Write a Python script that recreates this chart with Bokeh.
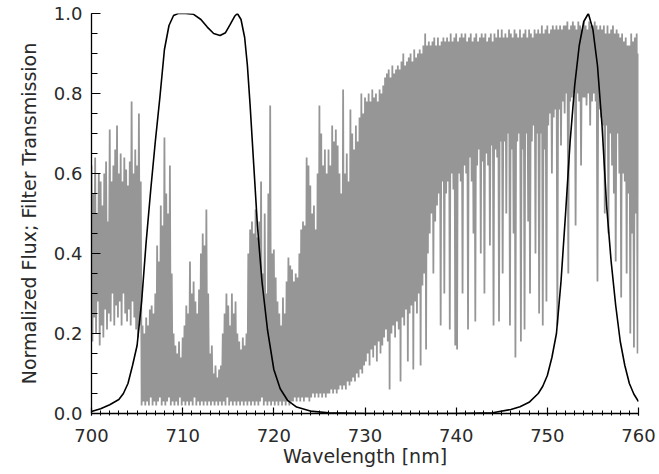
from bokeh.plotting import figure
from bokeh.models import FixedTicker, Range1d, PrintfTickFormatter
from bokeh.embed import file_html
from bokeh.resources import INLINE
import numpy as np

# ---- data ----
# stellar spectrum, sampled every 0.1 nm from 700 nm (one row per nm)
spec_start = 700.0
spec_step = 0.1
flux = [
    .62, .18, .55, .24, .64, .20, .50, .28, .60, .17,   # 700
    .58, .22, .52, .19, .60, .26, .63, .21, .48, .25,   # 701
    .71, .23, .58, .30, .62, .22, .66, .27, .72, .24,   # 702
    .60, .28, .65, .22, .58, .30, .64, .25, .61, .23,   # 703
    .57, .26, .63, .22, .78, .28, .60, .24, .66, .21,   # 704
    .62, .19, .75, .22, .58, .02, .22, .03, .20, .02,   # 705
    .24, .03, .22, .02, .26, .04, .27, .02, .25, .03,   # 706
    .30, .02, .42, .03, .38, .04, .52, .02, .47, .03,   # 707
    .69, .02, .55, .03, .50, .04, .62, .02, .35, .03,   # 708
    .20, .02, .17, .03, .15, .02, .18, .04, .14, .02,   # 709
    .19, .03, .22, .02, .27, .03, .25, .02, .38, .03,   # 710
    .30, .02, .33, .04, .28, .02, .25, .03, .31, .02,   # 711
    .40, .03, .45, .02, .42, .03, .51, .02, .30, .03,   # 712
    .15, .02, .17, .03, .10, .02, .12, .03, .09, .02,   # 713
    .11, .03, .12, .02, .20, .03, .25, .02, .30, .04,   # 714
    .27, .02, .22, .03, .30, .02, .25, .03, .28, .02,   # 715
    .20, .03, .18, .02, .16, .03, .19, .02, .17, .03,   # 716
    .20, .02, .40, .03, .46, .02, .48, .03, .45, .02,   # 717
    .51, .03, .44, .02, .48, .03, .58, .04, .35, .02,   # 718
    .50, .03, .30, .02, .55, .03, .77, .02, .40, .03,   # 719
    .41, .02, .34, .03, .28, .02, .25, .03, .22, .02,   # 720
    .29, .03, .25, .02, .33, .03, .39, .02, .37, .03,   # 721
    .36, .03, .33, .04, .35, .03, .34, .04, .40, .03,   # 722
    .46, .04, .48, .03, .47, .04, .64, .04, .62, .03,   # 723
    .57, .04, .50, .05, .52, .04, .46, .05, .60, .04,   # 724
    .77, .05, .70, .04, .62, .05, .66, .04, .60, .05,   # 725
    .66, .05, .62, .06, .72, .05, .68, .06, .71, .05,   # 726
    .67, .06, .60, .07, .55, .06, .81, .07, .60, .06,   # 727
    .65, .08, .58, .07, .76, .08, .70, .09, .66, .08,   # 728
    .72, .10, .68, .09, .74, .11, .80, .10, .75, .12,   # 729
    .79, .13, .78, .15, .80, .12, .78, .16, .81, .14,   # 730
    .79, .17, .80, .13, .78, .18, .81, .15, .80, .17,   # 731
    .82, .19, .84, .21, .85, .18, .86, .06, .84, .20,   # 732
    .87, .22, .85, .19, .86, .23, .87, .21, .86, .08,   # 733
    .88, .24, .90, .22, .87, .26, .88, .13, .89, .25,   # 734
    .90, .27, .88, .11, .91, .28, .89, .25, .90, .30,   # 735
    .91, .12, .90, .32, .92, .35, .95, .16, .92, .40,   # 736
    .93, .45, .92, .50, .93, .35, .94, .48, .92, .52,   # 737
    .94, .55, .92, .22, .93, .58, .94, .30, .93, .55,   # 738
    .94, .58, .93, .21, .95, .60, .93, .56, .94, .17,   # 739
    .95, .16, .93, .60, .94, .58, .95, .30, .94, .62,   # 740
    .95, .60, .93, .21, .94, .64, .95, .58, .93, .45,   # 741
    .94, .23, .95, .62, .93, .66, .94, .40, .95, .63,   # 742
    .94, .30, .95, .65, .93, .62, .94, .42, .95, .67,   # 743
    .93, .22, .95, .66, .94, .64, .96, .23, .94, .68,   # 744
    .96, .35, .94, .68, .95, .50, .94, .70, .96, .22,   # 745
    .95, .66, .94, .45, .96, .14, .95, .68, .94, .70,   # 746
    .96, .18, .94, .66, .95, .21, .96, .70, .94, .48,   # 747
    .96, .30, .95, .68, .94, .72, .96, .40, .95, .70,   # 748
    .96, .25, .95, .70, .97, .22, .95, .66, .96, .28,   # 749
    .97, .72, .95, .75, .96, .60, .97, .74, .96, .76,   # 750
    .97, .22, .96, .76, .97, .67, .96, .78, .97, .75,   # 751
    .97, .80, .98, .35, .96, .78, .97, .79, .98, .80,   # 752
    .97, .47, .96, .80, .98, .78, .97, .62, .96, .79,   # 753
    .98, .79, .97, .77, .96, .80, .98, .72, .97, .78,   # 754
    .97, .80, .98, .78, .97, .33, .96, .76, .97, .74,   # 755
    .96, .72, .97, .50, .95, .72, .97, .45, .95, .70,   # 756
    .96, .62, .97, .55, .95, .38, .96, .70, .95, .60,   # 757
    .94, .29, .95, .60, .93, .58, .94, .35, .92, .55,   # 758
    .92, .20, .95, .45, .93, .165, .94, .50, .95, .15,  # 759
    .90,                                                # 760
]

# filter 1 transmission
f1_wl = [700, 701, 702, 703, 703.5, 704, 704.5, 705, 705.5, 706, 706.5, 707, 707.5,
         708, 708.5, 709, 709.5, 710.3, 711.2, 712, 712.7, 713.4, 714.1, 714.7, 715.2,
         715.7, 716.0, 716.4, 716.8, 717.1, 717.4, 717.8, 718.2, 718.7, 719.3, 720.0,
         720.7, 721.5, 722.5, 724, 726, 730]
f1_tr = [0.005, 0.012, 0.022, 0.035, 0.05, 0.075, 0.12, 0.17, 0.28, 0.43, 0.56, 0.68, 0.79,
         0.91, 0.97, 0.995, 1.0, 1.0, 0.998, 0.985, 0.966, 0.95, 0.945, 0.952, 0.972,
         0.993, 1.0, 0.985, 0.94, 0.87, 0.77, 0.62, 0.47, 0.33, 0.21, 0.11,
         0.062, 0.033, 0.016, 0.006, 0.002, 0.0]

# filter 2 transmission
f2_wl = [730, 740, 744, 746, 747, 748, 749, 749.5, 750, 750.5, 751, 751.5, 752, 752.5,
         753, 753.5, 754, 754.5, 755, 755.5, 756, 756.5, 757, 757.5, 758, 758.5, 759,
         759.5, 760]
f2_tr = [0.0, 0.0, 0.002, 0.01, 0.017, 0.028, 0.05, 0.068, 0.095, 0.14, 0.2, 0.33, 0.5, 0.68,
         0.82, 0.92, 0.98, 1.0, 0.96, 0.87, 0.72, 0.52, 0.38, 0.27, 0.18, 0.12, 0.075,
         0.048, 0.03]

x_ticks = [700, 710, 720, 730, 740, 750, 760]
y_ticks = [0.0, 0.2, 0.4, 0.6, 0.8, 1.0]

# ---- plot ----
wl = spec_start + spec_step * np.arange(len(flux))

p = figure(width=659, height=474, output_backend="svg", toolbar_location=None,
           x_range=Range1d(700, 760), y_range=Range1d(0.0, 1.0),
           min_border_left=91, min_border_right=21, min_border_top=13, min_border_bottom=61)
p.outline_line_color = None
p.grid.visible = False
p.background_fill_color = "white"
p.border_fill_color = "white"

p.line(wl, flux, line_color="#969696", line_width=1.8, line_join="bevel")
p.line(f1_wl, f1_tr, line_color="black", line_width=1.6)
p.line(f2_wl, f2_tr, line_color="black", line_width=1.6)

text_color = "#2a2a2a"
xa = p.xaxis[0]
xa.ticker = FixedTicker(ticks=x_ticks, minor_ticks=[700 + i for i in range(61)])
xa.formatter = PrintfTickFormatter(format="%d")
xa.axis_label = "Wavelength [nm]"
ya = p.yaxis[0]
ya.ticker = FixedTicker(ticks=y_ticks, minor_ticks=[round(0.05 * i, 2) for i in range(21)])
ya.formatter = PrintfTickFormatter(format="%.1f")
ya.axis_label = "Normalized Flux; Filter Transmission"

for ax in (xa, ya):
    ax.axis_line_color = "black"
    ax.axis_line_width = 1.3
    ax.major_tick_line_color = "black"
    ax.minor_tick_line_color = "black"
    ax.major_tick_line_width = 1.2
    ax.minor_tick_line_width = 1.0
    ax.major_label_text_font = "DejaVu Sans"
    ax.major_label_text_font_size = "18px"
    ax.major_label_text_color = text_color
    ax.axis_label_text_font = "DejaVu Sans"
    ax.axis_label_text_font_size = "19px"
    ax.axis_label_text_font_style = "normal"
    ax.axis_label_text_color = text_color

xa.major_tick_in = 6
xa.major_tick_out = 2
xa.minor_tick_in = 3
xa.minor_tick_out = 2
xa.major_label_standoff = 13
xa.axis_label_standoff = 0

ya.major_tick_in = 9
ya.major_tick_out = 0
ya.minor_tick_in = 6
ya.minor_tick_out = 0
ya.major_label_standoff = 9
ya.axis_label_standoff = 11

open("out.html", "w").write(file_html(p, INLINE))
